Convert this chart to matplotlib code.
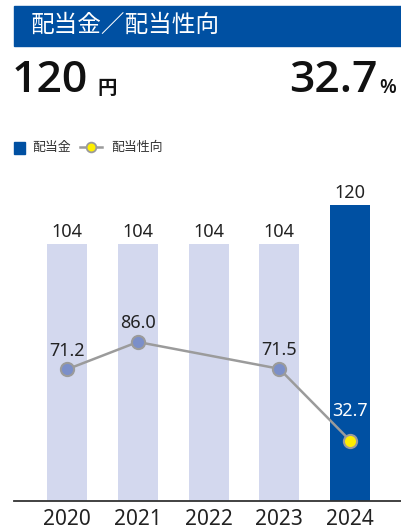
import numpy as np
import matplotlib
matplotlib.use('Agg')
import matplotlib.pyplot as plt
from matplotlib.patches import Rectangle
from matplotlib.lines import Line2D

plt.rcParams['font.family'] = ['Noto Sans', 'Noto Sans CJK JP', 'DejaVu Sans']

# data
years = ['2020', '2021', '2022', '2023', '2024']
dividend = [104, 104, 104, 104, 120]
payout = [71.2, 86.0, np.nan, 71.5, 32.7]
payout_labels = ['71.2', '86.0', '', '71.5', '32.7']

BLUE = '#0050a2'
LIGHT = '#d3d8ee'
GREY = '#9b9b9b'
TXT = '#222222'
HEAD = ['Open Sans', 'Noto Sans CJK JP', 'DejaVu Sans']

W, H = 401, 530
fig = plt.figure(figsize=(W / 100, H / 100), dpi=100)

def fx(px):
    return px / W

def fy(py):
    return 1 - py / H

# header band
fig.patches.append(Rectangle((fx(14), fy(46)), fx(W - 14), 40 / H,
                             transform=fig.transFigure, color=BLUE, zorder=0))
fig.text(fx(31), fy(26), '配当金／配当性向', color='white', fontsize=17,
         va='center', ha='left')

# headline numbers
fig.text(fx(12), fy(81), '120', fontsize=32, fontweight='semibold', family=HEAD,
         va='center', ha='left', color='#111111')
fig.text(fx(97), fy(88), '円', fontsize=14, fontweight='bold',
         family=['Noto Sans CJK JP'], va='center', ha='left', color='#111111')
fig.text(fx(378), fy(81), '32.7', fontsize=32, fontweight='semibold', family=HEAD,
         va='center', ha='right', color='#111111')
fig.text(fx(379), fy(88), '%', fontsize=14, fontweight='semibold', family=HEAD,
         va='center', ha='left', color='#111111')

# legend
fig.patches.append(Rectangle((fx(14), fy(154)), fx(11), 12 / H,
                             transform=fig.transFigure, color=BLUE))
fig.text(fx(32), fy(147), '配当金', fontsize=9.3, color='#333333',
         va='center', ha='left')
fig.lines.append(Line2D([fx(80), fx(102)], [fy(147), fy(147)],
                        transform=fig.transFigure, color=GREY, lw=1.8))
fig.lines.append(Line2D([fx(91)], [fy(147)], transform=fig.transFigure,
                        marker='o', markersize=7, markerfacecolor='#fff000',
                        markeredgecolor=GREY, markeredgewidth=1.3, color=GREY))
fig.text(fx(111), fy(147), '配当性向', fontsize=9.3, color='#333333',
         va='center', ha='left')

# main chart
ax = fig.add_axes([fx(14), (H - 501) / H, fx(W - 14), 331 / H])
x = np.arange(len(years))
colors = [LIGHT] * 4 + [BLUE]
ax.bar(x, dividend, width=0.565, color=colors, zorder=1)
for xi, v in zip(x, dividend):
    ax.annotate(str(v), (xi, v), xytext=(0, 2), textcoords='offset points',
                ha='center', va='bottom', fontsize=13, color=TXT)
ax.set_xlim(-0.75, 4.72)
ax.set_ylim(0, 134)
ax.set_yticks([])
ax.set_xticks(x)
ax.set_xticklabels(years, fontsize=15, color=TXT)
ax.tick_params(axis='x', length=0, pad=6)
for s in ['top', 'right', 'left']:
    ax.spines[s].set_visible(False)
ax.spines['bottom'].set_linewidth(1.3)
ax.spines['bottom'].set_color('#333333')

ax2 = ax.twinx()
ax2.set_ylim(0, 179)
ax2.axis('off')
pv = np.array(payout)
ok = ~np.isnan(pv)
ax2.plot(x[ok], pv[ok], color=GREY, lw=1.8, zorder=2)
face = ['#7b8fc9'] * 4 + ['#ffee00']
for xi, v, fc, lab in zip(x, payout, face, payout_labels):
    if np.isnan(v):
        continue
    ax2.plot(xi, v, marker='o', markersize=9.5, markerfacecolor=fc,
             markeredgecolor=GREY, markeredgewidth=1.5, zorder=3)
    last = xi == len(years) - 1
    ax2.annotate(lab, (xi, v), xytext=(0, 15 if last else 7),
                 textcoords='offset points', ha='center', va='bottom',
                 fontsize=13, color='white' if last else TXT)

fig.savefig('out.png', dpi=100)
